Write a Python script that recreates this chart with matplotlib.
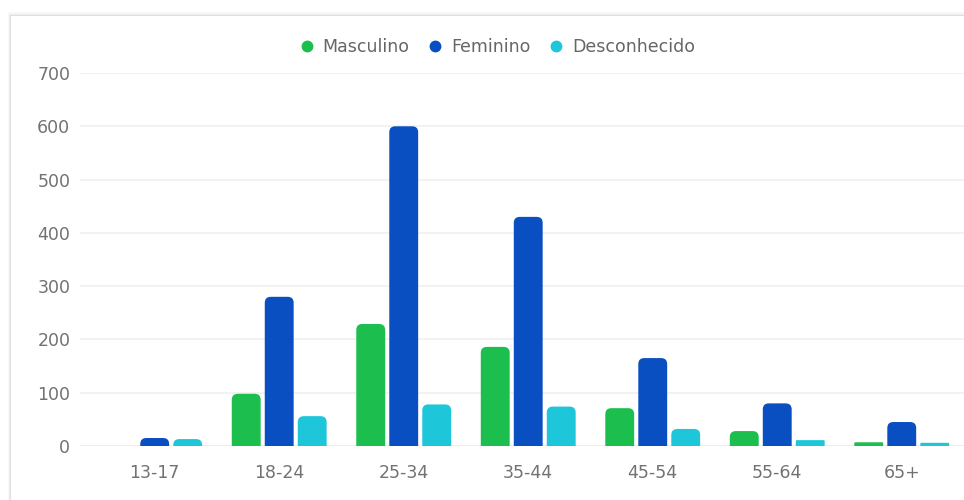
import numpy as np
import matplotlib
matplotlib.use('Agg')
import matplotlib.pyplot as plt
from matplotlib.patches import FancyBboxPatch, Rectangle
from matplotlib.lines import Line2D

# data
age_groups = ['13-17', '18-24', '25-34', '35-44', '45-54', '55-64', '65+']
masculino = [0, 98, 229, 186, 71, 28, 7]
feminino = [15, 280, 600, 430, 165, 80, 45]
desconhecido = [13, 56, 78, 74, 32, 11, 6]

series_names = ['Masculino', 'Feminino', 'Desconhecido']
series_colors = ['#1cbf4e', '#0a4fc2', '#1dc7d9']
y_ticks = [0, 100, 200, 300, 400, 500, 600, 700]

plt.rcParams['font.family'] = ['DejaVu Sans']

fig = plt.figure(figsize=(9.64, 5.0), dpi=100)
fig.patch.set_facecolor('white')

# card with a soft shadow on the left/top
for i, a in enumerate([0.05, 0.04, 0.03]):
    fig.patches.append(Rectangle((11 / 964 - (i + 1) * 0.0012, 0 - 0.01),
                                 1.2, (500 - 16) / 500 + (i + 1) * 0.0025 + 0.01,
                                 transform=fig.transFigure, facecolor='black',
                                 alpha=a, edgecolor='none', zorder=0))
fig.patches.append(Rectangle((11 / 964, -0.01), 1.2, (500 - 16) / 500 + 0.01,
                             transform=fig.transFigure, facecolor='white',
                             edgecolor='none', zorder=0.5))

ax = fig.add_axes([80 / 964, 1 - 446 / 500, 1 - 80 / 964, (446 - 73) / 500])
ax.set_facecolor('none')
ax.set_zorder(2)

x = np.arange(len(age_groups))
width = 0.232
step = 0.265

all_series = [masculino, feminino, desconhecido]
# px -> data unit ratio used for the rounded corners
x_per_px = 7.1 / 884
y_per_px = 700 / 373
radius_px = 6

for k, (vals, col) in enumerate(zip(all_series, series_colors)):
    bars = ax.bar(x + (k - 1) * step, vals, width, color=col, zorder=3)
    for b in bars:
        h = b.get_height()
        bx, bw = b.get_x(), b.get_width()
        b.remove()
        if h <= 0:
            continue
        r = radius_px * x_per_px
        r_y = r * y_per_px / x_per_px
        if h < r_y:
            r = 1 * x_per_px
            r_y = r * y_per_px / x_per_px
        # start below zero so the bottom corners get clipped away
        patch = FancyBboxPatch((bx, -r_y * 1.5), bw, h + r_y * 1.5,
                               boxstyle='round,pad=0,rounding_size=%f' % r,
                               mutation_aspect=y_per_px / x_per_px,
                               facecolor=col, edgecolor='none', zorder=3)
        ax.add_patch(patch)

ax.set_xlim(-0.6, 6.5)
ax.set_ylim(0, 700)
ax.set_yticks(y_ticks)
ax.set_xticks(x)
ax.set_xticklabels(age_groups)
ax.tick_params(axis='both', length=0, labelsize=12.5, labelcolor='#727272')
ax.tick_params(axis='y', pad=7)
ax.tick_params(axis='x', pad=13)
ax.grid(axis='y', color='#f0f0f0', linewidth=1.2, zorder=0)
ax.axhline(0, color='#e6dede', linewidth=1.2, zorder=1)
for s in ax.spines.values():
    s.set_visible(False)

handles = [Line2D([], [], marker='o', linestyle='none', markersize=7.5,
                  markerfacecolor=c, markeredgecolor=c) for c in series_colors]
fig.legend(handles, series_names, loc='center', bbox_to_anchor=(0.515, 0.906),
           ncol=3, frameon=False, fontsize=12.5, labelcolor='#666666',
           handletextpad=0.4, columnspacing=1.0, handlelength=1.0)

fig.savefig('out.png', dpi=100)
